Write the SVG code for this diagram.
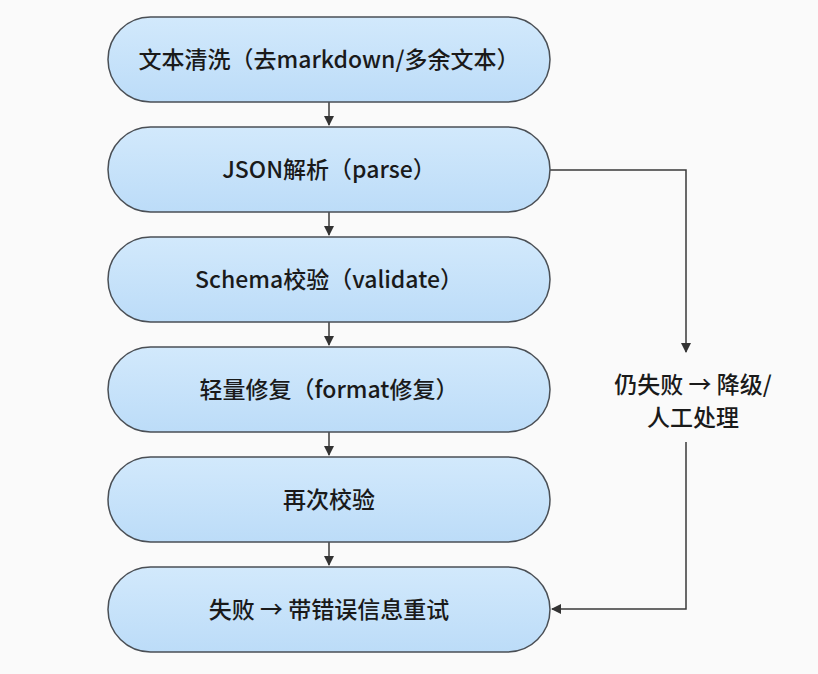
<svg xmlns="http://www.w3.org/2000/svg" width="818" height="674" viewBox="0 0 818 674">
<style>
.n{fill:#c6e2fa;stroke:#4a4f55;stroke-width:1.5}
.t{font-family:"Noto Sans CJK SC","Noto Sans",sans-serif;font-size:23px;font-weight:500;fill:#1a1a1a;text-anchor:middle}
.c{fill:none;stroke:#3a3a3a;stroke-width:1.5}
</style>
<defs><marker id="a" markerWidth="10" markerHeight="10" refX="9" refY="5" orient="auto" markerUnits="userSpaceOnUse"><path d="M0,0L10,5L0,10z" fill="#333"/></marker>
<linearGradient id="g" x1="0" y1="0" x2="0" y2="1"><stop offset="0" stop-color="#d2e9fc"/><stop offset="1" stop-color="#bcdcf8"/></linearGradient></defs>
<rect width="818" height="674" fill="#fafafa"/>
<g id="connectors">
<path class="c" d="M329,102V125" marker-end="url(#a)"/>
<path class="c" d="M329,212V235" marker-end="url(#a)"/>
<path class="c" d="M329,322V345" marker-end="url(#a)"/>
<path class="c" d="M329,432V455" marker-end="url(#a)"/>
<path class="c" d="M329,542V565" marker-end="url(#a)"/>
<path class="c" d="M550,170H686V352" marker-end="url(#a)"/>
<path class="c" d="M686,442V609H552" marker-end="url(#a)"/>
<text class="t" x="693" y="393">仍失败 → 降级/</text>
<text class="t" x="693" y="426">人工处理</text>
</g>
<g id="n1"><rect class="n" style="fill:url(#g)" x="108" y="17" width="442" height="85" rx="42.5"/><text class="t" x="329" y="68">文本清洗（去markdown/多余文本）</text></g>
<g id="n2"><rect class="n" style="fill:url(#g)" x="108" y="127" width="442" height="85" rx="42.5"/><text class="t" x="329" y="178">JSON解析（parse）</text></g>
<g id="n3"><rect class="n" style="fill:url(#g)" x="108" y="237" width="442" height="85" rx="42.5"/><text class="t" x="329" y="288">Schema校验（validate）</text></g>
<g id="n4"><rect class="n" style="fill:url(#g)" x="108" y="347" width="442" height="85" rx="42.5"/><text class="t" x="329" y="398">轻量修复（format修复）</text></g>
<g id="n5"><rect class="n" style="fill:url(#g)" x="108" y="457" width="442" height="85" rx="42.5"/><text class="t" x="329" y="508">再次校验</text></g>
<g id="n6"><rect class="n" style="fill:url(#g)" x="108" y="567" width="442" height="85" rx="42.5"/><text class="t" x="329" y="618">失败 → 带错误信息重试</text></g>
</svg>
